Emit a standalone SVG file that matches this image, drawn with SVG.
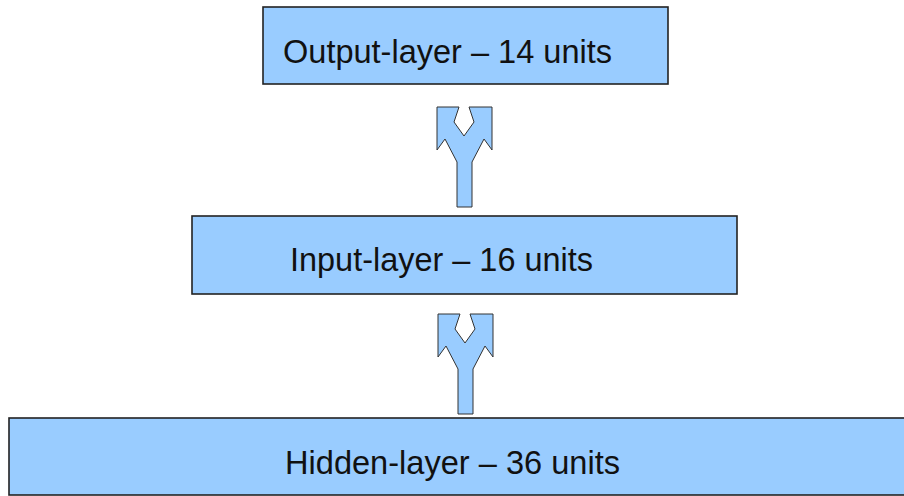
<svg xmlns="http://www.w3.org/2000/svg" width="904" height="496" viewBox="0 0 904 496">
  <style>
    .layer { fill: #99ccff; stroke: #222222; stroke-width: 1.6; }
    .label { font-family: "Liberation Sans", Arial, sans-serif; font-size: 32.5px; fill: #111111; }
    .link { fill: #99ccff; stroke: #333333; stroke-width: 1; stroke-linejoin: miter; }
  </style>
  <defs>
    <!-- Forked "Y" arrow pointing up, origin at its top-left corner -->
    <path id="fork" d="M0,0 L22,0 L17,15 L27,29 L37,15 L32,0 L55,0 L55,43 L47,32 L35,55 L35,100 L20,100 L20,55 L8,32 L0,43 Z"/>
  </defs>

  <g id="output-layer">
    <rect class="layer" x="263" y="7" width="405" height="77"/>
    <text class="label" x="283" y="63" textLength="329" lengthAdjust="spacingAndGlyphs">Output-layer – 14 units</text>
  </g>

  <g id="input-layer">
    <rect class="layer" x="192" y="216" width="545" height="78"/>
    <text class="label" x="290" y="271" textLength="303" lengthAdjust="spacingAndGlyphs">Input-layer – 16 units</text>
  </g>

  <g id="hidden-layer">
    <rect class="layer" x="9" y="418" width="900" height="77"/>
    <text class="label" x="285" y="474" textLength="335" lengthAdjust="spacingAndGlyphs">Hidden-layer – 36 units</text>
  </g>

  <g id="connectors">
    <use href="#fork" class="link" x="437" y="107"/>
    <use href="#fork" class="link" x="438" y="314"/>
  </g>
</svg>
